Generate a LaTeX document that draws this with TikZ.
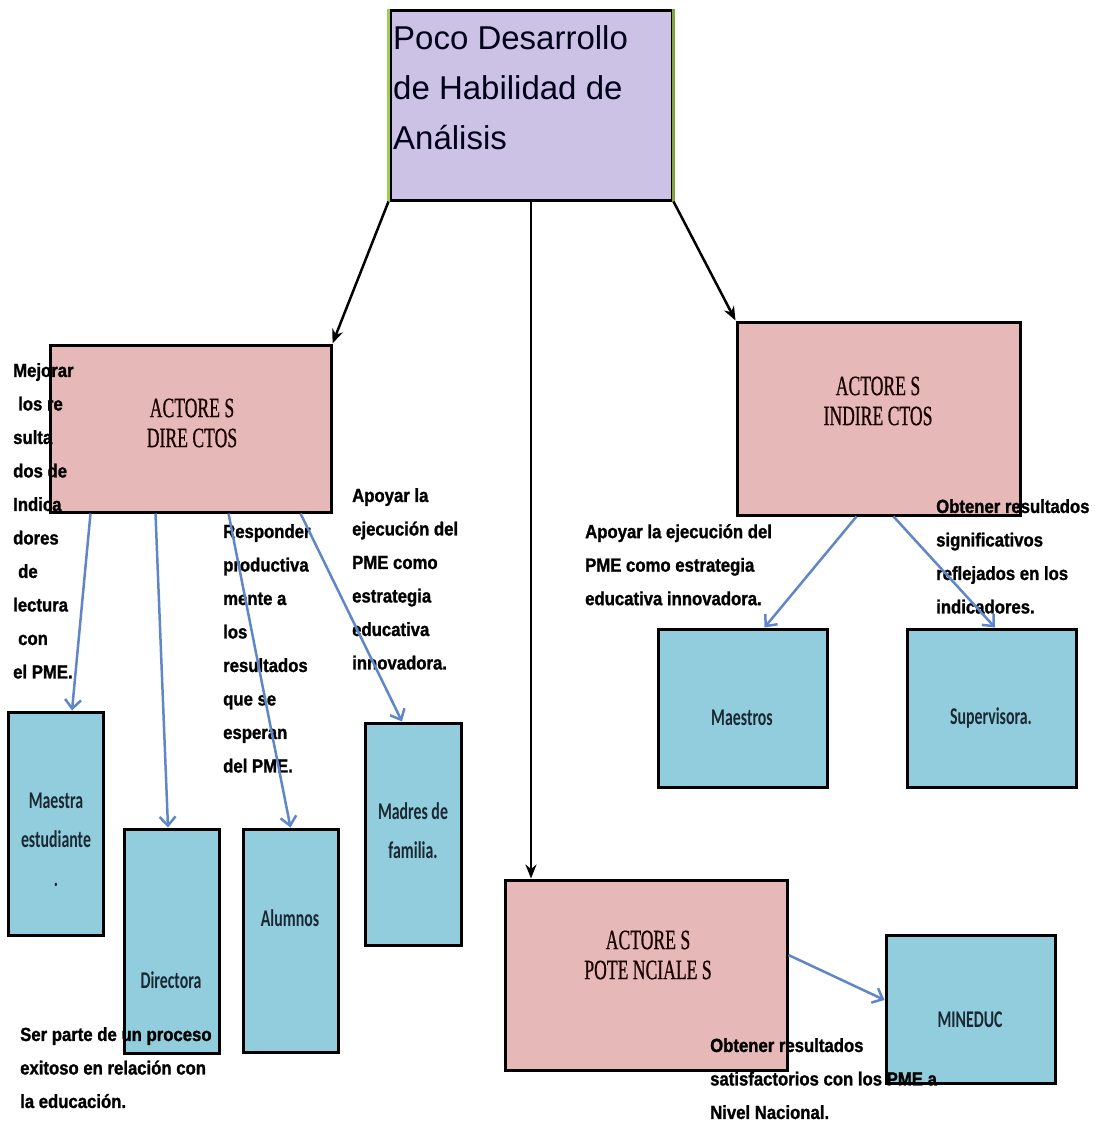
\documentclass[tikz,border=0pt]{standalone}
\usepackage{fontspec}
\setmainfont{Liberation Serif}
\setsansfont{Liberation Sans}
\newfontfamily\boxfont[FakeStretch=0.66]{Carlito}
\newfontfamily\actfont[FakeStretch=0.63, FakeBold=0.6]{Liberation Serif}
\newfontfamily\notefont[FakeStretch=0.88, FakeBold=1.2]{Liberation Sans}
\definecolor{mylilac}{RGB}{204,194,230}
\definecolor{mypink}{RGB}{230,185,184}
\definecolor{mycyan}{RGB}{146,205,221}
\definecolor{myarrow}{RGB}{95,135,200}
\definecolor{mylime}{RGB}{160,205,80}
\definecolor{myink}{RGB}{25,40,50}
\usetikzlibrary{arrows.meta, positioning}
\tikzset{
    box/.style={
           rectangle,
           draw=black, line width=3pt,
           inner sep=0pt,
           },
    titlebox/.style={box, fill=mylilac},
    actbox/.style={box, fill=mypink},
    rolebox/.style={box, fill=mycyan},
    titletext/.style={font=\sffamily\fontsize{33}{50}\selectfont, align=left,
           inner sep=0pt, anchor=north west, text=black!90!blue},
    acttext/.style={font=\actfont\fontsize{28}{30}\selectfont, align=center,
           inner sep=0pt, text=black!90!red},
    roletext/.style={font=\boxfont\bfseries\fontsize{24}{39}\selectfont, align=center,
           inner sep=0pt, text=myink},
    note/.style={font=\notefont\bfseries\fontsize{19}{33.5}\selectfont, align=left,
           inner sep=0pt, anchor=north west, text=black},
    mainarrow/.style={-{Stealth[length=14pt, width=11pt]}, line width=2.5pt, black},
    rolearrow/.style={-{Straight Barb[length=9pt, width=16pt]}, line width=2.5pt, myarrow},
}
\newcommand{\actores}[1]{ACTORE S\\#1}

\begin{document}
\begin{tikzpicture}[x=1pt, y=-1pt]
      \useasboundingbox (0,0) rectangle (1097,1125);
      % boxes
      \node[titlebox, minimum width=282pt, minimum height=190pt] (top)      at (531,  105)   {};
      \node[actbox,   minimum width=281pt, minimum height=167pt] (dir)      at (190.5, 428.5) {};
      \node[actbox,   minimum width=283pt, minimum height=193pt] (ind)      at (878.5, 418.5) {};
      \node[actbox,   minimum width=282pt, minimum height=190pt] (pot)      at (646,  975)   {};
      \node[rolebox,  minimum width=95pt,  minimum height=223pt] (maestra)  at (55.5, 823.5) {};
      \node[rolebox,  minimum width=95pt,  minimum height=224pt] (directora) at (171.5, 941) {};
      \node[rolebox,  minimum width=95pt,  minimum height=223pt] (alumnos)  at (290.5, 940.5) {};
      \node[rolebox,  minimum width=96pt,  minimum height=222pt] (madres)   at (413,  834)   {};
      \node[rolebox,  minimum width=169pt, minimum height=158pt] (maestros) at (742.5, 708)   {};
      \node[rolebox,  minimum width=169pt, minimum height=158pt] (superv)   at (991.5, 708)   {};
      \node[rolebox,  minimum width=169pt, minimum height=148pt] (mineduc)  at (970.5, 1009)  {};
      \draw[mylime, line width=3pt] (top.north west) -- (top.south west);
      \draw[mylime!80!black, line width=3pt] (top.north east) -- (top.south east);
      % box texts
      \node[titletext] (topT) at (393, 25) {Poco Desarrollo\\de Habilidad de\\Análisis};
      \node[acttext] (dirT) at (192, 423) {\actores{DIRE CTOS}};
      \node[acttext] (indT) at (878, 401) {\actores{INDIRE CTOS}};
      \node[acttext] (potT) at (648, 955) {\actores{POTE NCIALE S}};
      \node[roletext] (maestraT)   at (56, 840)  {Maestra\\estudiante\\.};
      \node[roletext] (directoraT) at (171, 980) {Directora};
      \node[roletext] (alumnosT)   at (290, 918) {Alumnos};
      \node[roletext] (madresT)    at (413, 831) {Madres de\\familia.};
      \node[roletext] (maestrosT)  at (742, 718) {Maestros};
      \node[roletext] (supervT)    at (991, 718) {Supervisora.};
      \node[roletext] (mineducT)   at (970, 1020) {MINEDUC};
      % notes
      \node[note] (mejorar)   at (13, 363)   {Mejorar\\\hspace*{5pt}los re\\sulta\\dos de\\Indica\\dores\\\hspace*{5pt}de\\lectura\\\hspace*{5pt}con\\el PME.};
      \node[note] (responder) at (223, 524)  {Responder\\productiva\\mente a\\los\\resultados\\que se\\esperan\\del PME.};
      \node[note] (apoyarA)   at (352, 488)  {Apoyar la\\ejecución del\\PME como\\estrategia\\educativa\\innovadora.};
      \node[note] (apoyarB)   at (585, 524)  {Apoyar la ejecución del\\PME como estrategia\\educativa innovadora.};
      \node[note] (obtenerA)  at (936, 499)  {Obtener resultados\\significativos\\reflejados en los\\indicadores.};
      \node[note] (serparte)  at (20, 1027)  {Ser parte de un proceso\\exitoso en relación con\\la educación.};
      \node[note] (obtenerB)  at (710, 1038) {Obtener resultados\\satisfactorios con los PME a\\Nivel Nacional.};
      % arrows
      \draw[mainarrow] (top.south west) -- (dir.north east);
      \draw[mainarrow] (top.south) -- (top.south |- pot.north);
      \draw[mainarrow] (top.south east) -- (ind.north west);
      \draw[rolearrow] ([xshift=42pt]dir.south west)  -- ([xshift=16.5pt]maestra.north);
      \draw[rolearrow] ([xshift=107pt]dir.south west) -- ([xshift=-3.5pt]directora.north);
      \draw[rolearrow] ([xshift=180pt]dir.south west) -- (alumnos.north);
      \draw[rolearrow] ([xshift=252pt]dir.south west) -- ([xshift=-11pt]madres.north);
      \draw[rolearrow] ([xshift=121pt]ind.south west) -- ([xshift=22pt]maestros.north);
      \draw[rolearrow] ([xshift=158pt]ind.south west) -- ([xshift=3.5pt]superv.north);
      \draw[rolearrow] ([yshift=20pt]pot.east) -- ([yshift=9pt]mineduc.west);
    \end{tikzpicture}
\end{document}
